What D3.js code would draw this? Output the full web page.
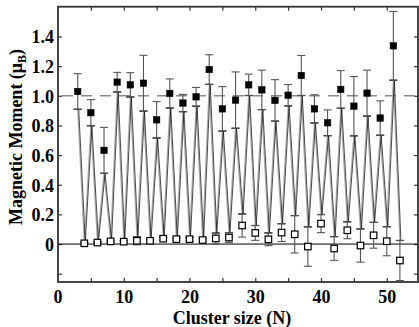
<!DOCTYPE html>
<html>
<head>
<meta charset="utf-8">
<script src="https://cdn.jsdelivr.net/npm/d3@7/dist/d3.min.js"></script>
<style>
  body { margin: 0; background: #fff; }
  svg text { font-family: "Liberation Serif", "Times New Roman", serif; font-weight: bold; }
</style>
</head>
<body>
<svg id="chart" width="419" height="327"></svg>
<script>
// odd cluster sizes: filled squares
const oddN = [3, 5, 7, 9, 11, 13, 15, 17, 19, 21, 23, 25, 27, 29, 31, 33, 35, 37, 39, 41, 43, 45, 47, 49, 51];
const oddMoment = [1.029, 0.886, 0.632, 1.092, 1.074, 1.085, 0.838, 1.016, 0.951, 0.993, 1.177, 0.912, 0.971,
  1.074, 1.040, 0.969, 1.004, 1.137, 0.912, 0.818, 1.043, 0.930, 1.018, 0.850, 1.337];
const oddErr = [0.120, 0.088, 0.155, 0.066, 0.082, 0.188, 0.123, 0.098, 0.058, 0.063, 0.100, 0.150, 0.190,
  0.072, 0.133, 0.140, 0.072, 0.135, 0.095, 0.087, 0.127, 0.200, 0.155, 0.116, 0.232];

// even cluster sizes: open squares
const evenN = [4, 6, 8, 10, 12, 14, 16, 18, 20, 22, 24, 26, 28, 30, 32, 34, 36, 38, 40, 42, 44, 46, 48, 50, 52];
const evenMoment = [0.005, 0.010, 0.018, 0.016, 0.022, 0.022, 0.036, 0.033, 0.033, 0.027, 0.038, 0.044, 0.125,
  0.075, 0.032, 0.077, 0.066, -0.017, 0.138, -0.030, 0.093, -0.010, 0.059, 0.019, -0.111];
const evenErr = [0.006, 0.006, 0.007, 0.007, 0.027, 0.010, 0.010, 0.008, 0.012, 0.010, 0.036, 0.033, 0.078,
  0.050, 0.043, 0.060, 0.126, 0.133, 0.061, 0.080, 0.057, 0.112, 0.087, 0.098, 0.135];

// zig-zag curve through the "+" marks
const curveN = d3.range(3, 53);
const curveVal = [0.909, 0.011, 0.798, 0.016, 0.477, 0.025, 1.026, 0.023, 0.992, 0.049, 0.897, 0.032, 0.715, 0.046,
  0.918, 0.041, 0.893, 0.045, 0.930, 0.037, 1.077, 0.074, 0.762, 0.077, 0.781, 0.203, 1.002, 0.125, 0.907, 0.075,
  0.829, 0.137, 0.932, 0.192, 1.002, 0.116, 0.817, 0.199, 0.731, 0.050, 0.916, 0.150, 0.730, 0.102, 0.863, 0.146,
  0.734, 0.117, 1.105, 0.024];

const xTicks = [5, 10, 15, 20, 25, 30, 35, 40, 45, 50];
const yTicks = [-0.2, 0, 0.2, 0.4, 0.6, 0.8, 1.0, 1.2, 1.4];
const refLevel = 1.0;

const m = {left: 58, right: 418, top: 6.7, bottom: 282};
const svg = d3.select('#chart');

const x = d3.scaleLinear().domain([0, 54.75]).range([m.left, m.right]);
const y = d3.scaleLinear().domain([-0.256, 1.601]).range([m.bottom, m.top]);

const fmtY = (d) => d < 0 ? '' : (d === 0 ? '0' : d3.format('.1f')(d));

// axes with inward ticks on all sides
const xb = svg.append('g').attr('transform', `translate(0,${m.bottom})`)
  .call(d3.axisBottom(x).tickValues(xTicks).tickSizeInner(-4).tickSizeOuter(0).tickPadding(8)
    .tickFormat((d) => d % 10 === 0 ? d : ''));
xb.append('text').attr('x', x(0)).attr('y', 8).attr('dy', '0.71em').attr('fill', '#000')
  .attr('text-anchor', 'middle').text('0');
const xt = svg.append('g').attr('transform', `translate(0,${m.top})`)
  .call(d3.axisTop(x).tickValues(xTicks).tickSizeInner(-4).tickSizeOuter(0).tickFormat(''));
const yl = svg.append('g').attr('transform', `translate(${m.left},0)`)
  .call(d3.axisLeft(y).tickValues(yTicks).tickSizeInner(-4).tickSizeOuter(0).tickPadding(4).tickFormat(fmtY));
const yr = svg.append('g').attr('transform', `translate(${m.right},0)`)
  .call(d3.axisRight(y).tickValues(yTicks).tickSizeInner(-4).tickSizeOuter(0).tickFormat(''));

[xb, xt, yl, yr].forEach((g) => {
  g.select('.domain').remove();
  g.selectAll('.tick line').attr('stroke', '#333').attr('stroke-width', 1.2);
  g.selectAll('text').attr('font-size', 18).attr('fill', '#000');
});
yl.selectAll('.tick text').attr('dy', '0.36em');

// reference lines
svg.append('line')
  .attr('x1', x(0.6)).attr('x2', m.right).attr('y1', y(refLevel)).attr('y2', y(refLevel))
  .attr('stroke', '#8a8a8a').attr('stroke-width', 1.6).attr('stroke-dasharray', '11,8');
svg.append('line')
  .attr('x1', m.left).attr('x2', m.right).attr('y1', y(0)).attr('y2', y(0))
  .attr('stroke', '#000').attr('stroke-width', 1);

// zig-zag curve: grey stroke with a thin black one beside it
const curve = curveN.map((n, i) => [n, curveVal[i]]);
const line = d3.line().x((d) => x(d[0])).y((d) => y(d[1]));
svg.append('path').datum(curve).attr('d', line)
  .attr('fill', 'none').attr('stroke', '#aaa').attr('stroke-width', 1.2);
svg.append('path').datum(curve).attr('d', line).attr('transform', 'translate(1,0)')
  .attr('fill', 'none').attr('stroke', '#000').attr('stroke-width', 0.7);

// "+" marks on the curve
svg.append('g').selectAll('line').data(curve).join('line')
  .attr('x1', (d) => x(d[0]) - 4).attr('x2', (d) => x(d[0]) + 4)
  .attr('y1', (d) => y(d[1])).attr('y2', (d) => y(d[1]))
  .attr('stroke', '#000').attr('stroke-width', 1.2);

// error bars
const points = oddN.map((n, i) => ({n, v: oddMoment[i], e: oddErr[i], filled: true}))
  .concat(evenN.map((n, i) => ({n, v: evenMoment[i], e: evenErr[i], filled: false})));
const bars = svg.append('g').attr('stroke', '#555').attr('stroke-width', 1.1);
bars.selectAll('.v').data(points).join('line').attr('class', 'v')
  .attr('x1', (d) => x(d.n)).attr('x2', (d) => x(d.n))
  .attr('y1', (d) => y(d.v - d.e)).attr('y2', (d) => y(d.v + d.e));
bars.selectAll('.hi').data(points).join('line').attr('class', 'hi')
  .attr('x1', (d) => x(d.n) - 4).attr('x2', (d) => x(d.n) + 4)
  .attr('y1', (d) => y(d.v + d.e)).attr('y2', (d) => y(d.v + d.e));
bars.selectAll('.lo').data(points).join('line').attr('class', 'lo')
  .attr('x1', (d) => x(d.n) - 4).attr('x2', (d) => x(d.n) + 4)
  .attr('y1', (d) => y(d.v - d.e)).attr('y2', (d) => y(d.v - d.e));

// squares
const s = 6.5;
svg.append('g').selectAll('rect').data(points).join('rect')
  .attr('x', (d) => x(d.n) - s / 2).attr('y', (d) => y(d.v) - s / 2)
  .attr('width', s).attr('height', s)
  .attr('fill', (d) => d.filled ? '#000' : '#fff')
  .attr('stroke', '#000').attr('stroke-width', (d) => d.filled ? 0.5 : 1.2);

// frame
svg.append('rect').attr('x', m.left).attr('y', m.top)
  .attr('width', m.right - m.left).attr('height', m.bottom - m.top)
  .attr('fill', 'none').attr('stroke', '#333').attr('stroke-width', 1.8);

// axis titles
svg.append('text').attr('x', 232).attr('y', 324).attr('text-anchor', 'middle')
  .attr('font-size', 18).text('Cluster size (N)');
const yt = svg.append('text').attr('transform', 'translate(22,137) rotate(-90)')
  .attr('text-anchor', 'middle').attr('font-size', 18);
yt.append('tspan').text('Magnetic Moment (\u03bc');
yt.append('tspan').attr('font-size', 12).attr('dy', 4).text('B');
yt.append('tspan').attr('dy', -4).text(')');
</script>
</body>
</html>
